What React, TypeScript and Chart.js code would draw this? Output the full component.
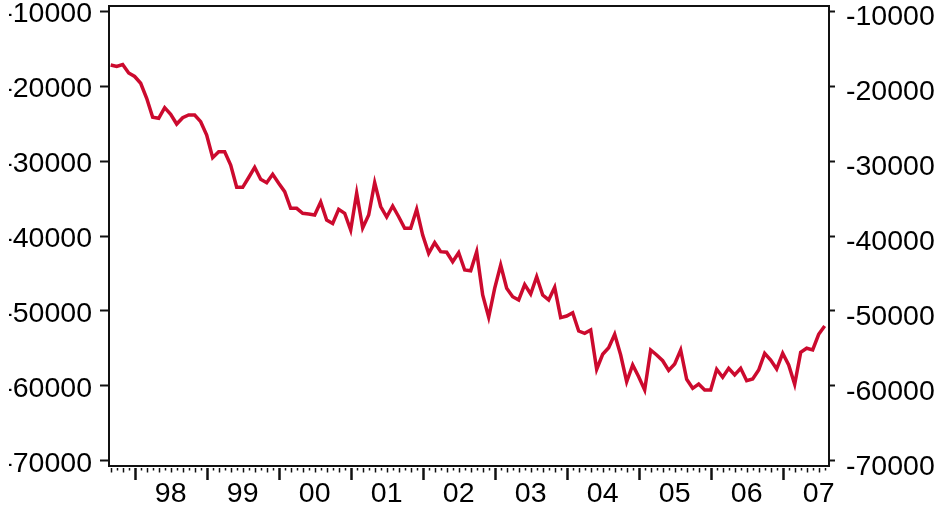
import React, { useEffect, useRef } from 'react';
import { Chart, registerables } from 'chart.js';

Chart.register(...registerables);

// Monthly series, September 1997 .. August 2007
const firstYear = 1997;
const firstMonth = 9; // September
const yearLabels = ['98', '99', '00', '01', '02', '03', '04', '05', '06', '07'];
const balance = [
  -17200, -17400, -17130, -18270, -18730, -19640, -21640, -24170, -24310, -22890,
  -23770, -25070, -24230, -23870, -23870, -24760, -26530, -29560, -28760, -28760,
  -30530, -33510, -33510, -32200, -30840, -32440, -32890, -31770, -32970, -34090,
  -36310, -36310, -36970, -37070, -37200, -35470, -37870, -38330, -36440, -36970,
  -39200, -34270, -38930, -37200, -32890, -36070, -37470, -36000, -37430, -38970,
  -38970, -36440, -39870, -42310, -40890, -42090, -42170, -43430, -42230, -44530,
  -44630, -42090, -47870, -50840, -46970, -43870, -46970, -48090, -48530, -46470,
  -47730, -45430, -47870, -48530, -46840, -50890, -50670, -50230, -52670, -52970,
  -52530, -57770, -55770, -54890, -53110, -55870, -59430, -57200, -58760, -60530,
  -55200, -55870, -56630, -57930, -57070, -55200, -59110, -60310, -59730, -60530,
  -60530, -57770, -58840, -57640, -58530, -57640, -59290, -59070, -57870, -55640,
  -56530, -57730, -55640, -57200, -59770, -55510, -54970, -55200, -53110, -52000,
];
const yTicks = [-70000, -60000, -50000, -40000, -30000, -20000, -10000];
const Y_MIN = -70667;
const Y_MAX = -9333;

const FONT = '"Liberation Sans", Arial, Helvetica, sans-serif';
const FONT_SIZE = 28.5;
const LINE_RED = '#CC0A2E';
const INK = '#111111';
const CLIP_LEFT = 9;

const noPad = (s: any) => {
  s.paddingTop = 0;
  s.paddingBottom = 0;
  s.paddingLeft = 0;
  s.paddingRight = 0;
};

export default function App() {
  const ref = useRef<HTMLCanvasElement | null>(null);

  useEffect(() => {
    const canvas = ref.current;
    if (!canvas) return;

    const janOffset = (12 - firstMonth + 1) % 12; // index of first January
    const julOffset = janOffset + 6;
    const points = balance.map((v, i) => ({ x: i, y: v }));
    const labelValues = yearLabels.map((_, k) => julOffset + 12 * k);

    const monthTicks = {
      id: 'monthTicks',
      afterDraw(chart: any) {
        const { ctx, chartArea: a, scales } = chart;
        const xs = scales.x;
        ctx.save();
        ctx.strokeStyle = INK;
        ctx.lineWidth = 2;
        ctx.beginPath();
        ctx.moveTo(a.left - 1, a.top);
        ctx.lineTo(a.right + 1, a.top);
        ctx.stroke();
        const y0 = a.bottom + 2;
        balance.forEach((_, i) => {
          const px = Math.round(xs.getPixelForValue(i)) + 0.5;
          const rel = ((i - janOffset) % 12 + 12) % 12;
          let len = rel % 2 === 0 ? 4.5 : 2.5;
          let w = 1.5;
          if (rel === 0) {
            len = 12;
            w = 2.5;
          }
          ctx.lineWidth = w;
          ctx.beginPath();
          ctx.moveTo(px, y0);
          ctx.lineTo(px, y0 + len);
          ctx.stroke();
        });
        ctx.restore();
      },
    };

    const yTickOpts = (pad: number, off: number) => ({
      callback: (v: any) => String(v),
      font: { family: FONT, size: FONT_SIZE },
      color: '#000',
      padding: pad,
      labelOffset: off,
      autoSkip: false,
    });

    const chart = new Chart(canvas, {
      type: 'line',
      data: {
        datasets: [
          {
            data: points,
            borderColor: LINE_RED,
            borderWidth: 3.5,
            pointRadius: 0,
            tension: 0,
            fill: false,
            xAxisID: 'x',
            yAxisID: 'y',
          },
        ],
      },
      options: {
        responsive: false,
        animation: false,
        devicePixelRatio: 1,
        layout: { padding: { top: 6, left: 0, right: 0, bottom: 0 } },
        plugins: { legend: { display: false }, tooltip: { enabled: false } },
        scales: {
          x: {
            type: 'linear',
            min: -0.28,
            max: balance.length - 0.28,
            afterBuildTicks: (s: any) => {
              s.ticks = labelValues.map((v) => ({ value: v }));
            },
            afterFit: (s: any) => {
              s.height = 42;
              noPad(s);
            },
            ticks: {
              autoSkip: false,
              maxRotation: 0,
              minRotation: 0,
              padding: 11,
              font: { family: FONT, size: FONT_SIZE },
              color: '#000',
              callback: (v: any) => {
                const k = (Number(v) - julOffset) / 12;
                return Number.isInteger(k) && yearLabels[k] ? yearLabels[k] : '';
              },
            },
            grid: { display: false, drawTicks: false, tickLength: 0 },
            border: { display: true, color: INK, width: 2 },
          },
          y: {
            type: 'linear',
            position: 'left',
            min: Y_MIN,
            max: Y_MAX,
            afterBuildTicks: (s: any) => {
              s.ticks = yTicks.map((v) => ({ value: v }));
            },
            afterFit: (s: any) => {
              s.width = 109;
              noPad(s);
            },
            ticks: yTickOpts(8, 3),
            grid: { drawOnChartArea: false, drawTicks: true, tickLength: 9, tickWidth: 2, tickColor: INK },
            border: { display: true, color: INK, width: 2 },
          },
          y2: {
            type: 'linear',
            position: 'right',
            min: Y_MIN,
            max: Y_MAX,
            afterBuildTicks: (s: any) => {
              s.ticks = yTicks.map((v) => ({ value: v }));
            },
            afterFit: (s: any) => {
              s.width = 109;
              noPad(s);
            },
            ticks: yTickOpts(11, 6),
            grid: { drawOnChartArea: false, drawTicks: true, tickLength: 6, tickWidth: 2, tickColor: INK },
            border: { display: true, color: INK, width: 2 },
          },
        },
      } as any,
      plugins: [monthTicks],
    });

    return () => chart.destroy();
  }, []);

  return (
    <div
      style={{
        position: 'fixed',
        left: CLIP_LEFT,
        top: 0,
        width: 938 - CLIP_LEFT,
        height: 508,
        overflow: 'hidden',
        background: '#fff',
      }}
    >
      <canvas
        ref={ref}
        width={938}
        height={508}
        style={{ position: 'absolute', left: -CLIP_LEFT, top: 0, width: 938, height: 508 }}
      />
    </div>
  );
}
